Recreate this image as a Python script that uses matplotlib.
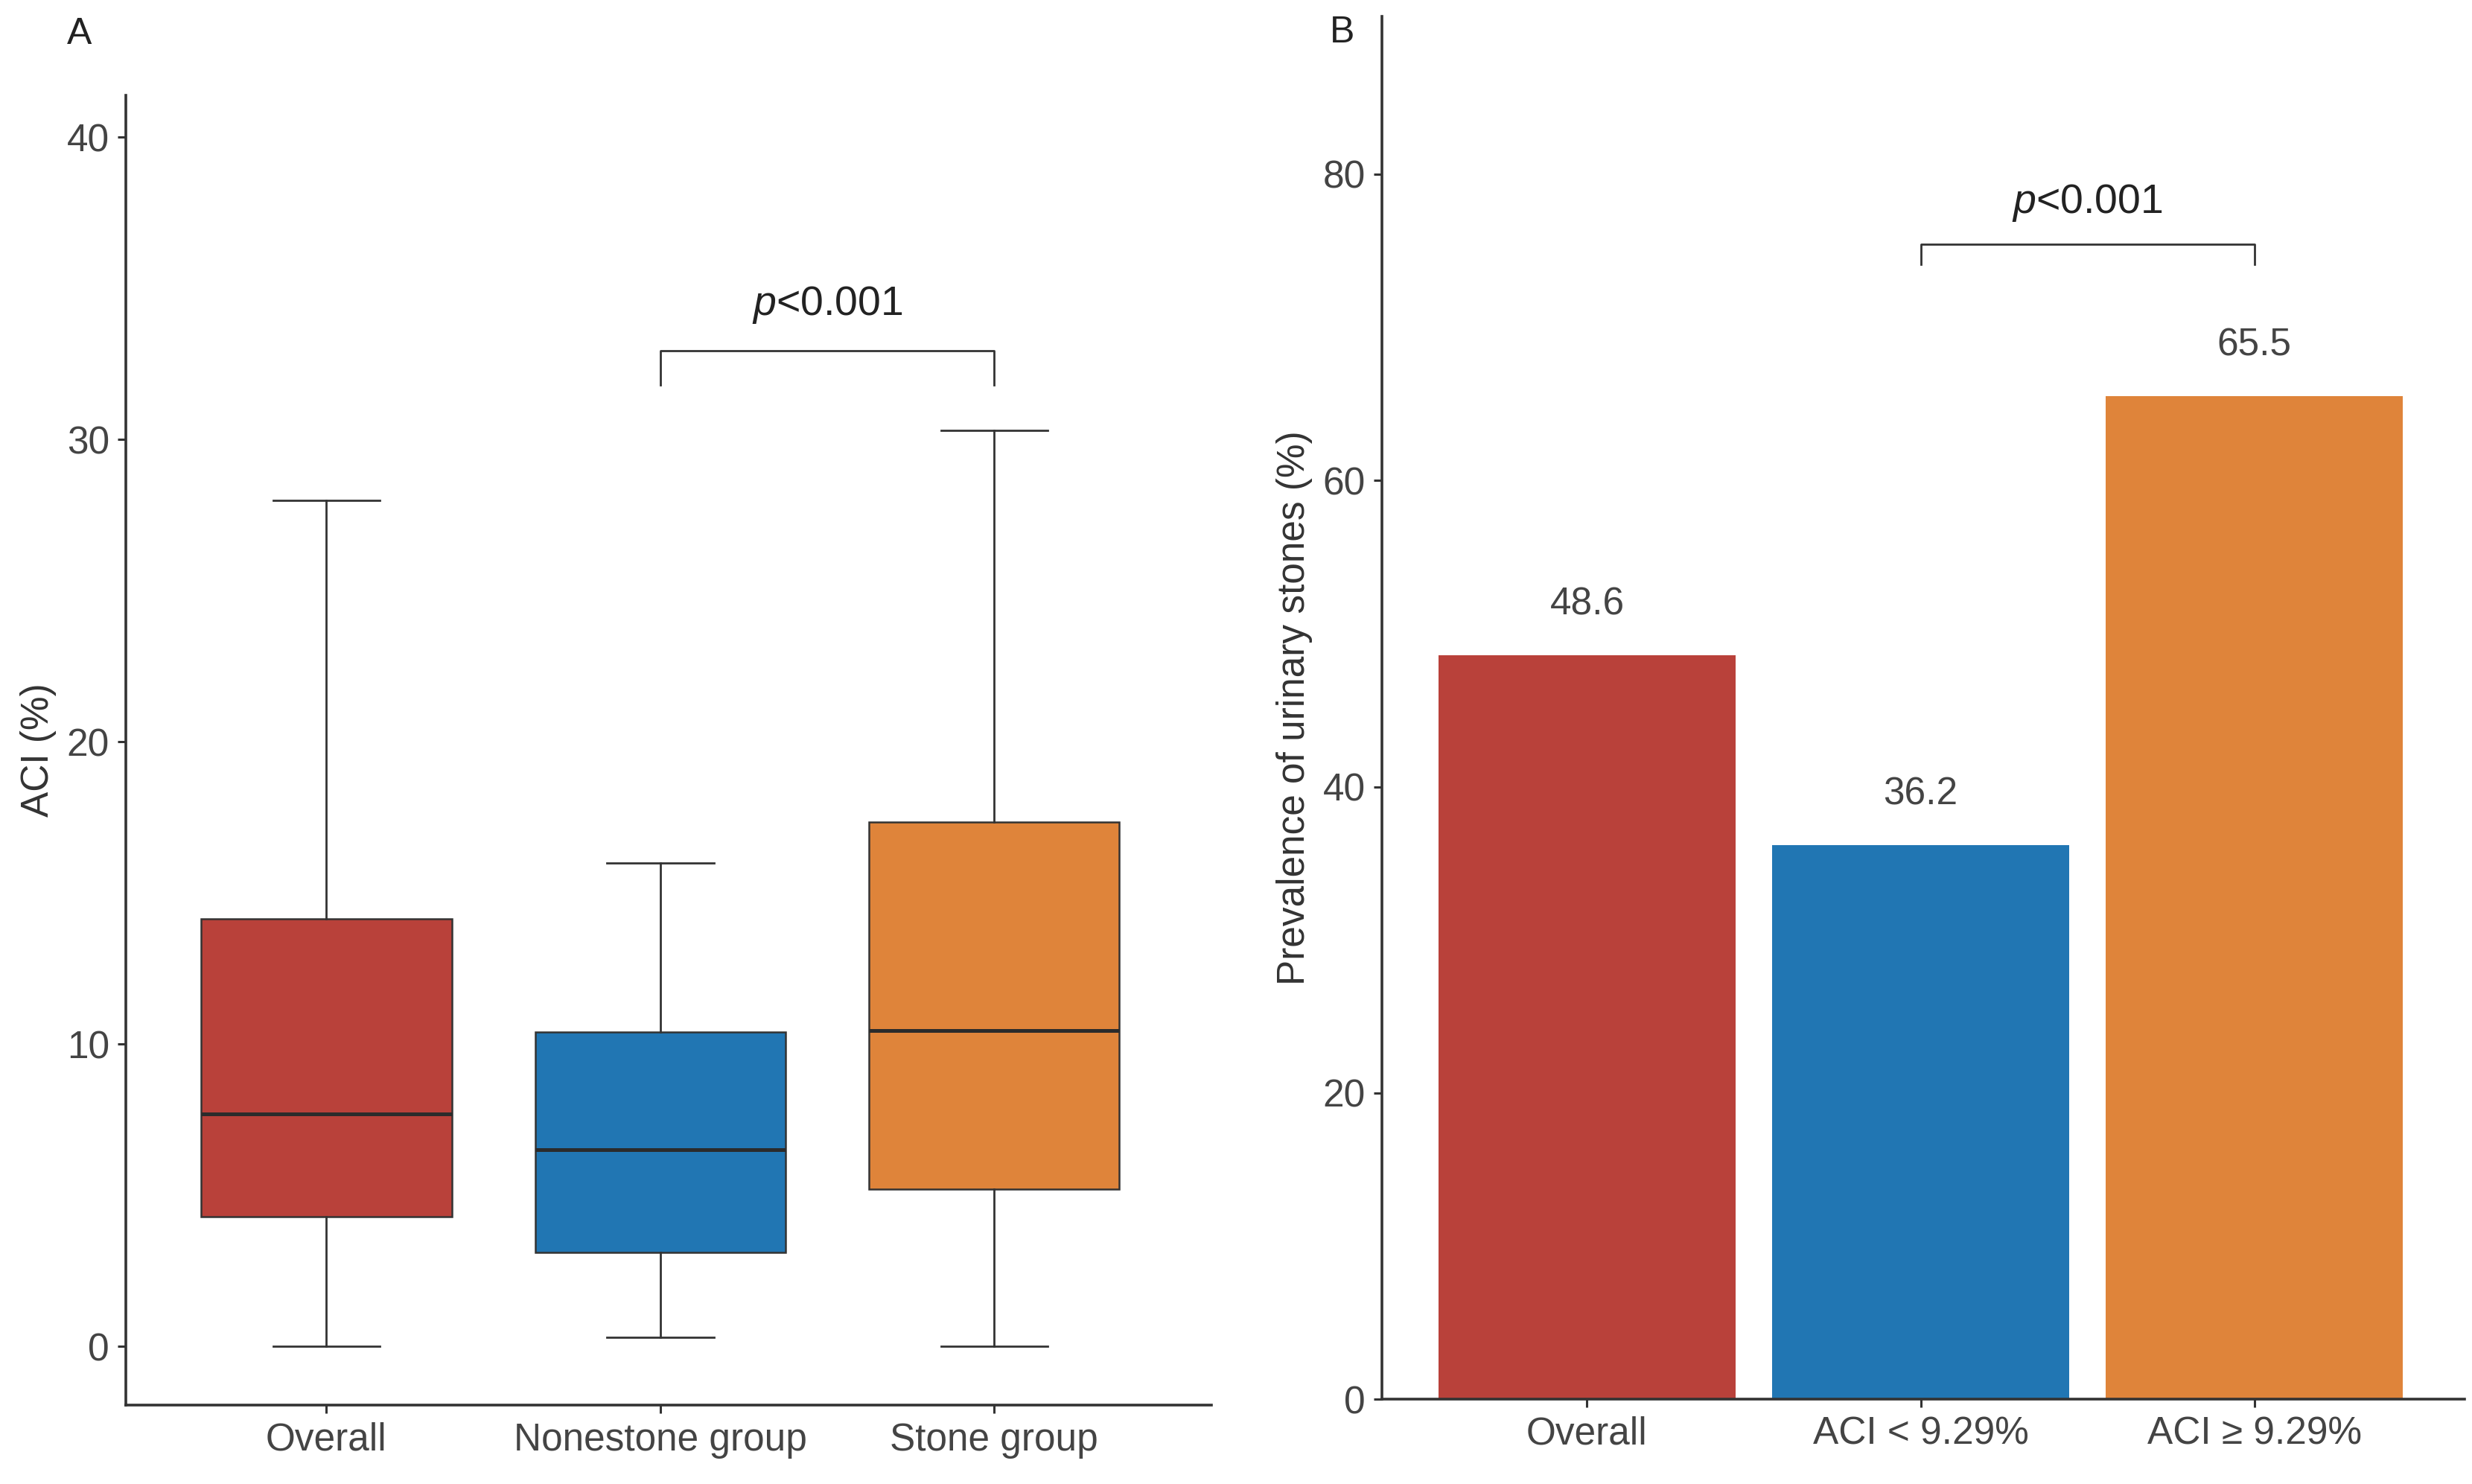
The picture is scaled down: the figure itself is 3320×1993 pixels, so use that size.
import matplotlib
matplotlib.use('Agg')
import matplotlib.pyplot as plt

plt.rcParams['font.family'] = ['Liberation Sans', 'DejaVu Sans']
plt.rcParams['mathtext.fontset'] = 'custom'
plt.rcParams['mathtext.rm'] = 'Liberation Sans'
plt.rcParams['mathtext.it'] = 'Liberation Sans:italic'

# panel A: box summaries of ACI (%)
groups_a = ['Overall', 'Nonestone group', 'Stone group']
whislo = [0.0, 0.3, 0.0]
q1 = [4.3, 3.1, 5.2]
med = [7.7, 6.5, 10.45]
q3 = [14.15, 10.4, 17.35]
whishi = [28.0, 16.0, 30.3]

# panel B: prevalence of urinary stones (%)
groups_b = ['Overall', 'ACI < 9.29%', 'ACI ≥ 9.29%']
prevalence = [48.6, 36.2, 65.5]

colors = ['#B9413A', '#2176B3', '#DF843A']
axcol = '#333333'
fs = 18.5

fig = plt.figure(figsize=(16.6, 9.965), dpi=200)
axA = fig.add_axes([0.051, 0.053, 0.439, 0.883])
axB = fig.add_axes([0.559, 0.057, 0.438, 0.932])

for ax in (axA, axB):
    for s in ('top', 'right'):
        ax.spines[s].set_visible(False)
    for s in ('left', 'bottom'):
        ax.spines[s].set_color(axcol)
        ax.spines[s].set_linewidth(1.3)
    ax.tick_params(axis='both', colors=axcol, length=4, width=1.1, labelsize=fs,
                   labelcolor='#444444', pad=4)

# ---- A ----
stats = []
for i in range(3):
    stats.append(dict(med=med[i], q1=q1[i], q3=q3[i], whislo=whislo[i], whishi=whishi[i],
                      fliers=[], label=groups_a[i]))
bp = axA.bxp(stats, positions=[1, 2, 3], widths=0.75, patch_artist=True, showfliers=False,
             boxprops=dict(edgecolor=axcol, linewidth=0.9),
             medianprops=dict(color='#2b2b2b', linewidth=1.8),
             whiskerprops=dict(color=axcol, linewidth=1.0),
             capprops=dict(color=axcol, linewidth=1.0), capwidths=0.32)
for patch, c in zip(bp['boxes'], colors):
    patch.set_facecolor(c)
axA.set_xlim(0.4, 3.65)
axA.set_ylim(-1.95, 41.4)
axA.set_yticks([0, 10, 20, 30, 40])
axA.set_xticks([1, 2, 3])
axA.set_xticklabels(groups_a)
axA.set_ylabel('ACI (%)', fontsize=fs, color='#333333', labelpad=5)
axA.plot([2, 2, 3, 3], [31.8, 32.95, 32.95, 31.8], color=axcol, lw=1.0)
axA.text(2.5, 34.45, '$p$<0.001', ha='center', va='center', fontsize=20, color='#222222')
fig.text(0.027, 0.977, 'A', fontsize=18, color='#222222', va='center')

# ---- B ----
axB.bar([1, 2, 3], prevalence, width=0.89, color=colors)
for x, v in zip([1, 2, 3], prevalence):
    axB.text(x, v + 3.3, f'{v:.1f}', ha='center', va='center', fontsize=fs, color='#444444')
axB.set_xlim(0.385, 3.63)
axB.set_ylim(0, 90.3)
axB.set_yticks([0, 20, 40, 60, 80])
axB.set_xticks([1, 2, 3])
axB.set_xticklabels(groups_b)
axB.set_ylabel('Prevalence of urinary stones (%)', fontsize=fs, color='#333333', labelpad=5)
axB.plot([2, 2, 3, 3], [74.1, 75.4, 75.4, 74.1], color=axcol, lw=1.0)
axB.text(2.5, 78.1, '$p$<0.001', ha='center', va='center', fontsize=20, color='#222222')
fig.text(0.538, 0.978, 'B', fontsize=18, color='#222222', va='center')

fig.savefig('out.png', dpi=200, facecolor='white')
